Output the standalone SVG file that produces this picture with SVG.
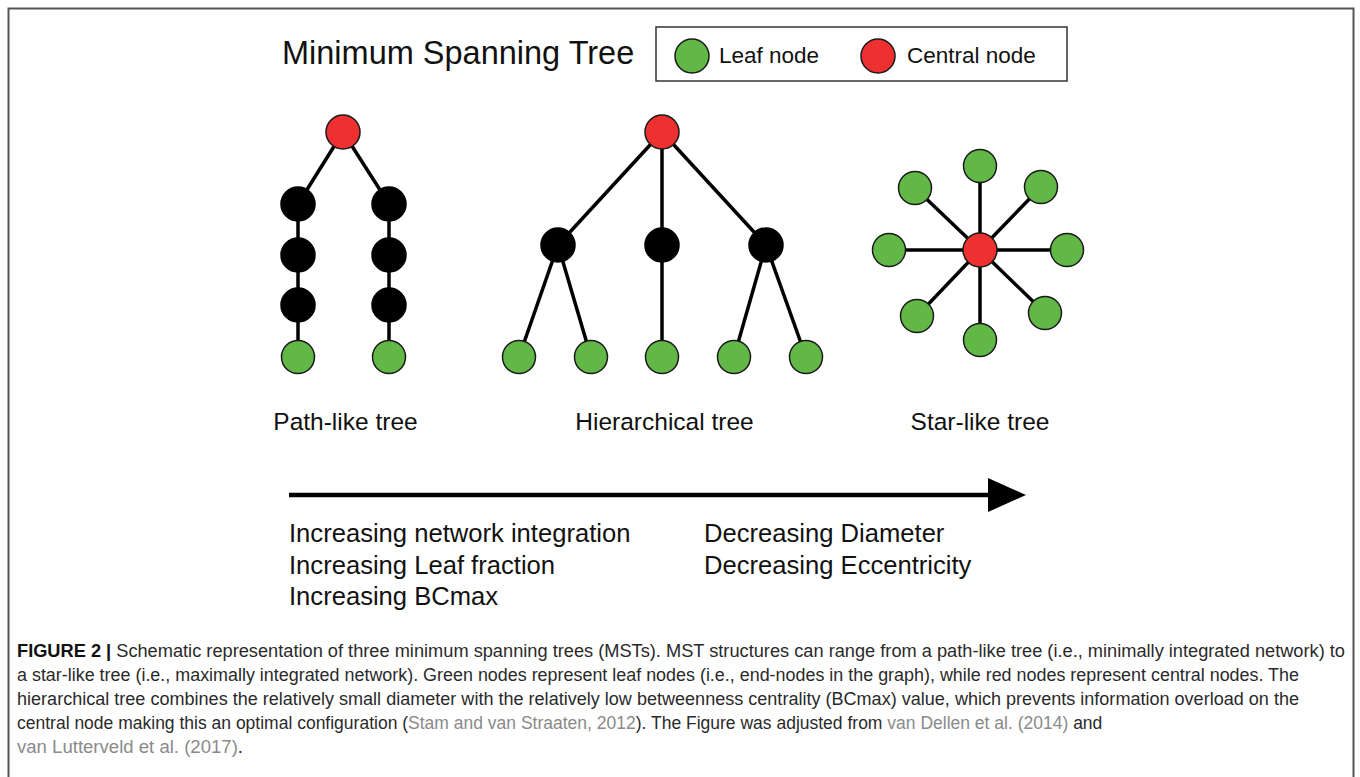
<svg xmlns="http://www.w3.org/2000/svg" width="1360" height="777" viewBox="0 0 1360 777">
  <defs>
    <style>
      text { font-family: "Liberation Sans", Arial, sans-serif; fill: #111; }
      .title { font-size: 32.5px; }
      .legend { font-size: 22.5px; }
      .label { font-size: 24.5px; text-anchor: middle; }
      .note { font-size: 25.6px; }
      .cap { font-size: 17.5px; fill: #2a2a2a; }
      .ref { fill: #8a8a8a; }
      .leaf { fill: #62b846; stroke: #1a1a1a; stroke-width: 1.5; }
      .central { fill: #ee3030; stroke: #1a1a1a; stroke-width: 1.5; }
      .inner { fill: #000; stroke: #000; stroke-width: 1.5; }
      .edge { stroke: #000; stroke-width: 3.5; fill: none; }
    </style>
  </defs>

  <rect width="1360" height="777" fill="#fff"/>
  <!-- outer frame (bottom edge runs off the page) -->
  <rect x="8.5" y="8.5" width="1345" height="800" fill="none" stroke="#555" stroke-width="2"/>

  <!-- header and legend -->
  <text class="title" x="282" y="64">Minimum Spanning Tree</text>
  <g id="legend">
    <rect x="656" y="27" width="411" height="54" fill="#fff" stroke="#333" stroke-width="1.5"/>
    <circle class="leaf" cx="692" cy="56" r="17"/>
    <text class="legend" x="719" y="63">Leaf node</text>
    <circle class="central" cx="878" cy="56" r="17"/>
    <text class="legend" x="907" y="63">Central node</text>
  </g>

  <!-- connectors -->
  <g id="connectors">
    <!-- path-like tree -->
    <line class="edge" x1="343" y1="132" x2="298" y2="204"/>
    <line class="edge" x1="298" y1="204" x2="298" y2="357"/>
    <line class="edge" x1="343" y1="132" x2="389" y2="204"/>
    <line class="edge" x1="389" y1="204" x2="389" y2="357"/>
    <!-- hierarchical tree -->
    <line class="edge" x1="662" y1="132" x2="558" y2="245"/>
    <line class="edge" x1="662" y1="132" x2="662" y2="245"/>
    <line class="edge" x1="662" y1="132" x2="766" y2="245"/>
    <line class="edge" x1="558" y1="245" x2="519" y2="357"/>
    <line class="edge" x1="558" y1="245" x2="591" y2="357"/>
    <line class="edge" x1="662" y1="245" x2="662" y2="357"/>
    <line class="edge" x1="766" y1="245" x2="734" y2="357"/>
    <line class="edge" x1="766" y1="245" x2="806" y2="357"/>
    <!-- star-like tree -->
    <line class="edge" x1="980" y1="250" x2="980" y2="166"/>
    <line class="edge" x1="980" y1="250" x2="1041" y2="187"/>
    <line class="edge" x1="980" y1="250" x2="1067" y2="250"/>
    <line class="edge" x1="980" y1="250" x2="1045" y2="313"/>
    <line class="edge" x1="980" y1="250" x2="980" y2="340"/>
    <line class="edge" x1="980" y1="250" x2="917" y2="316"/>
    <line class="edge" x1="980" y1="250" x2="889" y2="250"/>
    <line class="edge" x1="980" y1="250" x2="915" y2="188"/>
    <!-- trend arrow -->
    <g id="trend-arrow">
      <line x1="289" y1="495" x2="995" y2="495" stroke="#000" stroke-width="4.5"/>
      <path d="M988,478 L1026,495 L988,512 Z" fill="#000"/>
    </g>
  </g>

  <!-- path-like tree nodes -->
  <g id="path-tree">
    <circle id="p-root" class="central" cx="343" cy="132" r="17"/>
    <circle id="p-l1" class="inner" cx="298" cy="204" r="17"/>
    <circle id="p-l2" class="inner" cx="298" cy="255" r="17"/>
    <circle id="p-l3" class="inner" cx="298" cy="305" r="17"/>
    <circle id="p-l4" class="leaf" cx="298" cy="357" r="16.5"/>
    <circle id="p-r1" class="inner" cx="389" cy="204" r="17"/>
    <circle id="p-r2" class="inner" cx="389" cy="255" r="17"/>
    <circle id="p-r3" class="inner" cx="389" cy="305" r="17"/>
    <circle id="p-r4" class="leaf" cx="389" cy="357" r="16.5"/>
  </g>

  <!-- hierarchical tree nodes -->
  <g id="hier-tree">
    <circle id="h-root" class="central" cx="662" cy="132" r="17"/>
    <circle id="h-a" class="inner" cx="558" cy="245" r="17"/>
    <circle id="h-b" class="inner" cx="662" cy="245" r="17"/>
    <circle id="h-c" class="inner" cx="766" cy="245" r="17"/>
    <circle id="h-a1" class="leaf" cx="519" cy="357" r="16.5"/>
    <circle id="h-a2" class="leaf" cx="591" cy="357" r="16.5"/>
    <circle id="h-b1" class="leaf" cx="662" cy="357" r="16.5"/>
    <circle id="h-c1" class="leaf" cx="734" cy="357" r="16.5"/>
    <circle id="h-c2" class="leaf" cx="806" cy="357" r="16.5"/>
  </g>

  <!-- star-like tree nodes -->
  <g id="star-tree">
    <circle id="s-n" class="leaf" cx="980" cy="166" r="16.5"/>
    <circle id="s-ne" class="leaf" cx="1041" cy="187" r="16.5"/>
    <circle id="s-e" class="leaf" cx="1067" cy="250" r="16.5"/>
    <circle id="s-se" class="leaf" cx="1045" cy="313" r="16.5"/>
    <circle id="s-s" class="leaf" cx="980" cy="340" r="16.5"/>
    <circle id="s-sw" class="leaf" cx="917" cy="316" r="16.5"/>
    <circle id="s-w" class="leaf" cx="889" cy="250" r="16.5"/>
    <circle id="s-nw" class="leaf" cx="915" cy="188" r="16.5"/>
    <circle id="s-hub" class="central" cx="980" cy="250" r="17"/>
  </g>

  <!-- tree names -->
  <text class="label" x="345.5" y="430">Path-like tree</text>
  <text class="label" x="664.5" y="430">Hierarchical tree</text>
  <text class="label" x="980" y="430">Star-like tree</text>

  <!-- trend notes -->
  <g id="notes">
    <text class="note" x="289" y="542">Increasing network integration</text>
    <text class="note" x="289" y="574">Increasing Leaf fraction</text>
    <text class="note" x="289" y="605">Increasing BCmax</text>
    <text class="note" x="704" y="542">Decreasing Diameter</text>
    <text class="note" x="704" y="574">Decreasing Eccentricity</text>
  </g>

  <!-- caption -->
  <g id="caption">
    <text class="cap" x="17" y="657" textLength="1328" lengthAdjust="spacingAndGlyphs"><tspan font-weight="bold" fill="#111">FIGURE 2 |</tspan> Schematic representation of three minimum spanning trees (MSTs). MST structures can range from a path-like tree (i.e., minimally integrated network) to</text>
    <text class="cap" x="17" y="681" textLength="1282" lengthAdjust="spacingAndGlyphs">a star-like tree (i.e., maximally integrated network). Green nodes represent leaf nodes (i.e., end-nodes in the graph), while red nodes represent central nodes. The</text>
    <text class="cap" x="17" y="705" textLength="1282" lengthAdjust="spacingAndGlyphs">hierarchical tree combines the relatively small diameter with the relatively low betweenness centrality (BCmax) value, which prevents information overload on the</text>
    <text class="cap" x="17" y="729" font-size="16.6">central node making this an optimal configuration (<tspan class="ref">Stam and van Straaten, 2012</tspan>). The Figure was adjusted from <tspan class="ref">van Dellen et al. (2014)</tspan> and</text>
    <text class="cap" x="17" y="753" textLength="226" lengthAdjust="spacingAndGlyphs"><tspan class="ref">van Lutterveld et al. (2017)</tspan>.</text>
  </g>
</svg>
